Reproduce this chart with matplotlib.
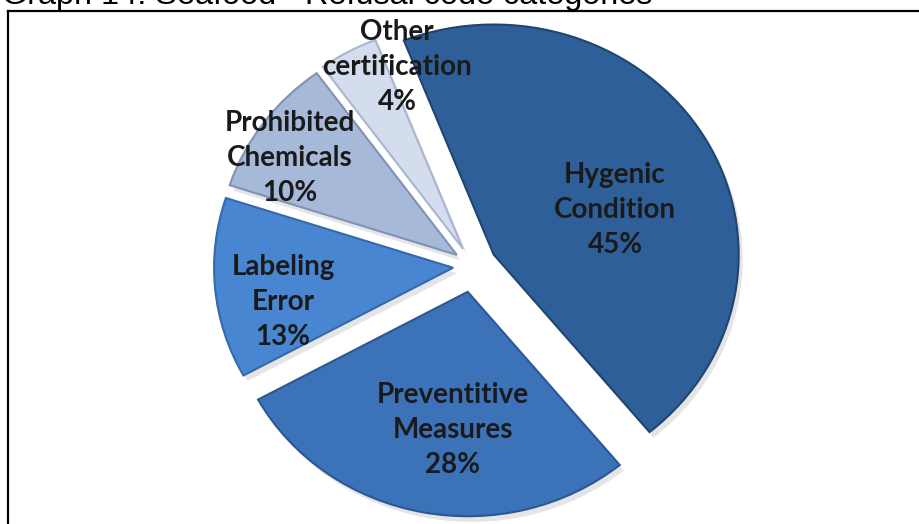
import matplotlib
matplotlib.use("Agg")
import matplotlib.pyplot as plt
from matplotlib.lines import Line2D
import numpy as np

# ---- data ----
categories = ["Hygenic\nCondition", "Preventitive\nMeasures", "Labeling\nError",
              "Prohibited\nChemicals", "Other\ncertification"]
values = [45, 28, 13, 10, 4]
title = "Graph 14: Seafood - Refusal code categories"

# ---- styling / layout ----
W, H = 919, 524
K = 1.065                      # vertical squash of the (tilted) pie
colors = ["#2E5F98", "#3C72B8", "#4886D2", "#A7B9D8", "#D4DDEE"]
edge_colors = ["#1F4570", "#2A5894", "#3569AE", "#8092B5", "#A9B6CF"]
explode_px = [24, 28, 20, 20, 21]
radii_px = [245, 239, 239, 239, 239]
center_px = (473, 266)
start_angle = 111.5
label_xy = [(615, 210), (453, 430), (283, 302), (290, 158), (397, 67)]

fig = plt.figure(figsize=(W / 100, H / 100), dpi=100)
ax = fig.add_axes([0, 0, 1, 1])

cx, cy = center_px[0], (H - center_px[1]) * K


def draw(center, cols, **wp):
    ws, _ = ax.pie(values, explode=explode_px, center=center, radius=240,
                   startangle=start_angle, counterclock=False, colors=cols,
                   wedgeprops=wp)
    for w, r in zip(ws, radii_px):
        w.set_radius(r)
    return ws


# soft shadow
draw((cx + 4, cy - 6), ["#000000"] * len(values), alpha=0.10, linewidth=0)
wedges = draw((cx, cy), colors, linewidth=1.5)
for w, ec in zip(wedges, edge_colors):
    w.set_edgecolor(ec)

for cat, val, (lx, ly) in zip(categories, values, label_xy):
    ax.text(lx, (H - ly) * K, f"{cat}\n{val}%", ha="center", va="center",
            fontsize=20, fontweight="bold", family=["Lato", "DejaVu Sans"],
            color="#1a1a1a", linespacing=1.42)

ax.set_xlim(0, W)
ax.set_ylim(0, H * K)
ax.set_aspect("auto")
ax.axis("off")

# frame (left and top borders)
fig.add_artist(Line2D([8 / W, 8 / W], [0, 1 - 11 / H], color="black", lw=1.6,
                      transform=fig.transFigure))
fig.add_artist(Line2D([8 / W, 1], [1 - 11 / H, 1 - 11 / H], color="black", lw=1.6,
                      transform=fig.transFigure))

# title, cut by the top edge of the figure
fig.text(2 / W, 1 - 4 / H, title, ha="left", va="baseline", fontsize=23.3,
         family=["Liberation Sans", "DejaVu Sans"], color="black")

fig.savefig("out.png", dpi=100)
